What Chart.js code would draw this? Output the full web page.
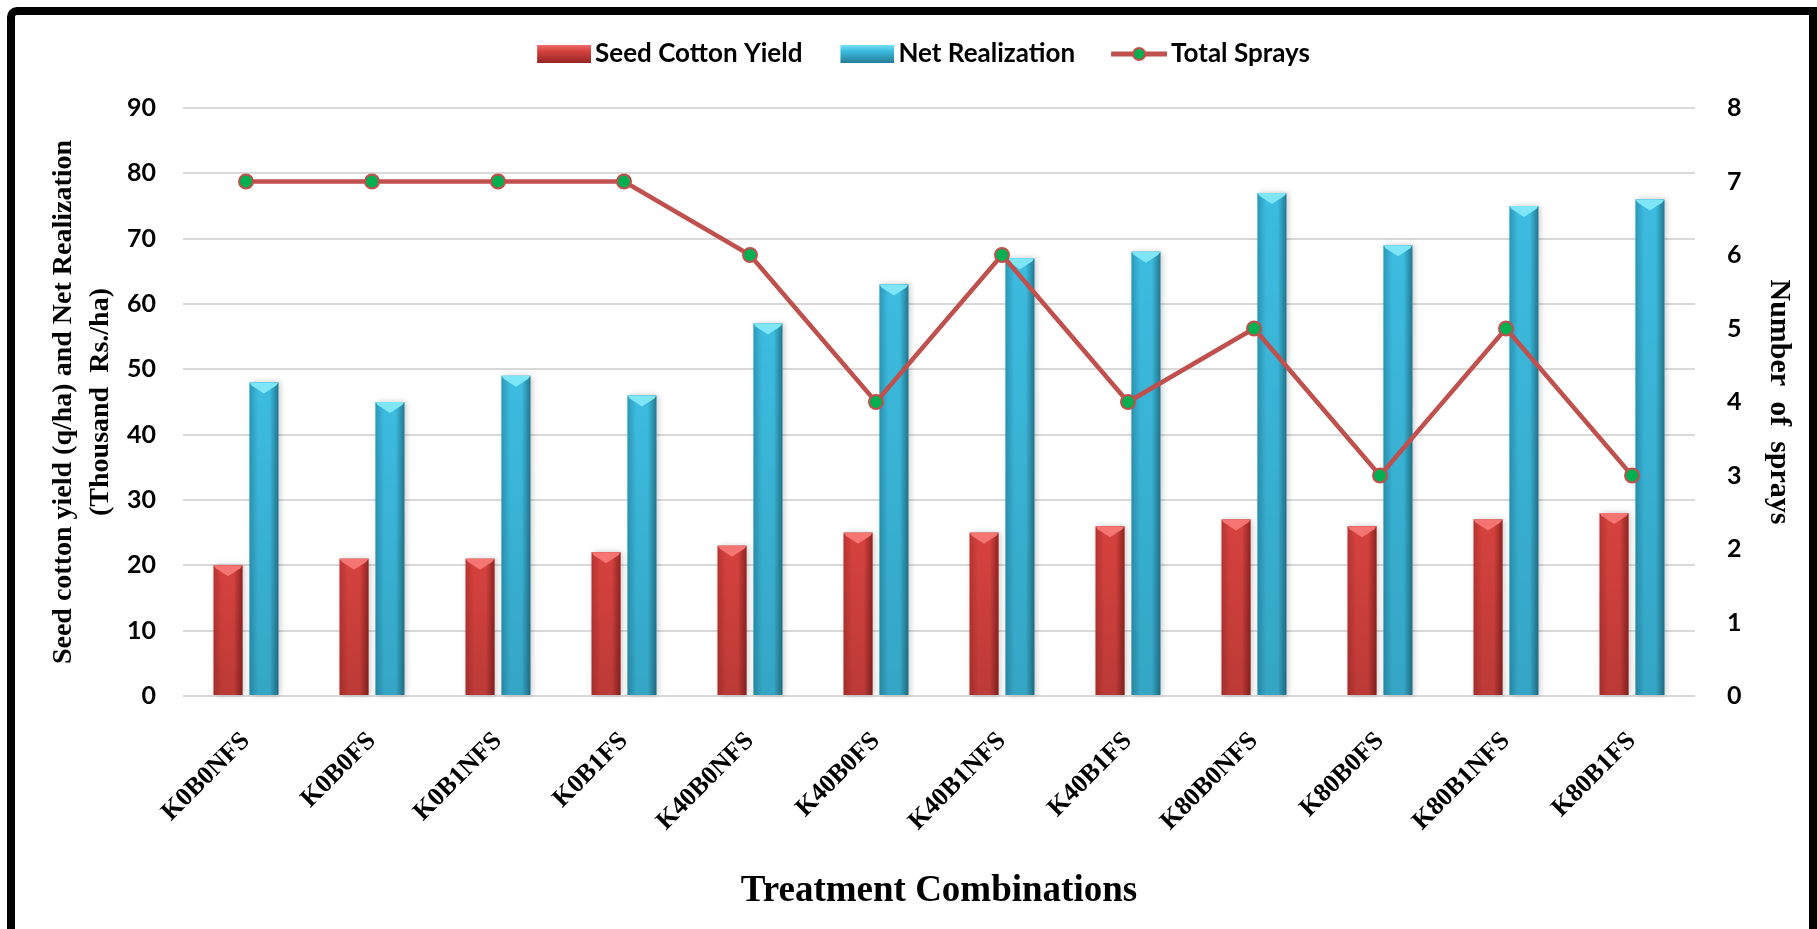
<!DOCTYPE html>
<html>
<head>
<meta charset="utf-8">
<script src="https://cdn.jsdelivr.net/npm/chart.js@4.4.0/dist/chart.umd.min.js"></script>
<style>
  html, body { margin: 0; padding: 0; background: #fff; }
  #wrap { position: relative; width: 1817px; height: 929px; overflow: hidden; }
  #frame {
    position: absolute; left: 7px; top: 7px; right: 0; bottom: -20px;
    border: 8px solid #000; border-bottom: none; border-top-left-radius: 10px;
    box-sizing: border-box; pointer-events: none;
  }
  canvas { position: absolute; left: 0; top: 0; }
</style>
</head>
<body>
<div id="wrap">
  <canvas id="sprayChart" width="1817" height="929"></canvas>
  <div id="frame"></div>
</div>
<script>
const treatments = ['K0B0NFS', 'K0B0FS', 'K0B1NFS', 'K0B1FS', 'K40B0NFS', 'K40B0FS',
  'K40B1NFS', 'K40B1FS', 'K80B0NFS', 'K80B0FS', 'K80B1NFS', 'K80B1FS'];
const seedCottonYield = [20, 21, 21, 22, 23, 25, 25, 26, 27, 26, 27, 28];
const netRealization = [48, 45, 49, 46, 57, 63, 67, 68, 77, 69, 75, 76];
const totalSprays = [7, 7, 7, 7, 6, 4, 6, 4, 5, 3, 5, 3];

const redBar = { left: '#B93431', mid: '#D6423E', right: '#8E2421', top: '#F47572' };
const blueBar = { left: '#2C98B8', mid: '#3CBCE0', right: '#23788F', top: '#7FE6F8' };

// legend swatches (drawn as point style images)
function barSwatch(pal) {
  const c = document.createElement('canvas');
  c.width = 68; c.height = 20;
  const ctx = c.getContext('2d');
  const g = ctx.createLinearGradient(0, 0, 0, 20);
  g.addColorStop(0, pal.top);
  g.addColorStop(0.35, pal.mid);
  g.addColorStop(1, pal.right);
  ctx.fillStyle = g;
  ctx.fillRect(14, 1, 54, 18);
  return c;
}
function lineSwatch() {
  const c = document.createElement('canvas');
  c.width = 68; c.height = 20;
  const ctx = c.getContext('2d');
  ctx.strokeStyle = '#C0504D';
  ctx.lineWidth = 5;
  ctx.beginPath(); ctx.moveTo(12, 10); ctx.lineTo(68, 10); ctx.stroke();
  ctx.beginPath(); ctx.arc(40, 10, 6, 0, Math.PI * 2);
  ctx.fillStyle = '#00B050'; ctx.fill();
  ctx.lineWidth = 2; ctx.stroke();
  return c;
}

const barLook = {
  id: 'barLook',
  beforeLayout(chart) {
    // leave room between legend and plot
    const legend = chart.legend;
    if (legend && !legend._gapPatched) {
      const fit = legend.fit;
      legend.fit = function () { fit.call(this); this.height = 100; };
      legend._gapPatched = true;
    }
  },
  afterDatasetDraw(chart, args) {
    if (args.meta.type !== 'bar') return;
    const pal = args.meta.index === 0 ? redBar : blueBar;
    const ctx = chart.ctx;
    ctx.save();
    args.meta.data.forEach(bar => {
      const { x, y, base, width } = bar.getProps(['x', 'y', 'base', 'width'], true);
      const l = x - width / 2, r = x + width / 2, h = base - y;
      const g = ctx.createLinearGradient(l, 0, r, 0);
      g.addColorStop(0, pal.left);
      g.addColorStop(0.3, pal.mid);
      g.addColorStop(0.7, pal.mid);
      g.addColorStop(1, pal.right);
      ctx.shadowColor = 'rgba(0,0,0,0.22)';
      ctx.shadowBlur = 6;
      ctx.shadowOffsetX = 2;
      ctx.fillStyle = g;
      ctx.fillRect(l, y, width, h);
      ctx.shadowColor = 'transparent';
      const v = ctx.createLinearGradient(0, y, 0, base);
      v.addColorStop(0, 'rgba(0,0,0,0)');
      v.addColorStop(1, 'rgba(0,0,0,0.12)');
      ctx.fillStyle = v;
      ctx.fillRect(l, y, width, h);
      const bh = Math.min(11, h / 2);
      ctx.beginPath();
      ctx.moveTo(l, y); ctx.lineTo(r, y); ctx.lineTo(r - 2, y + 3);
      ctx.lineTo(x, y + bh); ctx.lineTo(l + 2, y + 3); ctx.closePath();
      ctx.fillStyle = pal.top;
      ctx.fill();
    });
    ctx.restore();
  }
};

const tickFont = { family: 'Lato', weight: 'bold', size: 25 };
const serifBold = { family: 'Liberation Serif', weight: 'bold', size: 28 };

new Chart(document.getElementById('sprayChart'), {
  type: 'bar',
  data: {
    labels: treatments,
    datasets: [
      {
        label: 'Seed Cotton Yield',
        data: seedCottonYield,
        backgroundColor: redBar.mid,
        yAxisID: 'y',
        order: 1,
        categoryPercentage: 0.57,
        barPercentage: 0.8
      },
      {
        label: 'Net Realization',
        data: netRealization,
        backgroundColor: blueBar.mid,
        yAxisID: 'y',
        order: 2,
        categoryPercentage: 0.57,
        barPercentage: 0.8
      },
      {
        label: 'Total Sprays',
        type: 'line',
        data: totalSprays,
        yAxisID: 'y1',
        order: 0,
        borderColor: '#C0504D',
        borderWidth: 4.5,
        pointRadius: 7,
        pointBackgroundColor: '#00B050',
        pointBorderColor: '#C0504D',
        pointBorderWidth: 2,
        tension: 0
      }
    ]
  },
  options: {
    responsive: false,
    animation: false,
    layout: { padding: { left: 46, right: 21, top: 8, bottom: 17 } },
    plugins: {
      tooltip: { enabled: false },
      legend: {
        position: 'top',
        labels: {
          usePointStyle: true,
          pointStyleWidth: 50,
          padding: 33,
          color: '#000',
          font: { family: 'Lato', weight: 'bold', size: 26 },
          sort: (a, b) => a.datasetIndex - b.datasetIndex,
          generateLabels(chart) {
            const imgs = [barSwatch(redBar), barSwatch(blueBar), lineSwatch()];
            return chart.data.datasets.map((ds, i) => ({
              text: ds.label,
              datasetIndex: i,
              pointStyle: imgs[i],
              fillStyle: 'transparent',
              strokeStyle: 'transparent',
              lineWidth: 0,
              hidden: false
            }));
          }
        }
      }
    },
    scales: {
      x: {
        afterFit(scale) { scale.height = 216; },
        grid: { display: false },
        border: { display: false },
        ticks: {
          color: '#000',
          font: { family: 'Liberation Serif', weight: 'bold', size: 26 },
          minRotation: 45,
          maxRotation: 45,
          autoSkip: false,
          padding: 22
        },
        title: {
          display: true,
          text: 'Treatment Combinations',
          color: '#000',
          font: { family: 'Liberation Serif', weight: 'bold', size: 37, lineHeight: 1.1 },
          padding: { top: 0, bottom: 0 }
        }
      },
      y: {
        position: 'left',
        min: 0,
        max: 90,
        afterFit(scale) { scale.width = 137; },
        ticks: { stepSize: 10, color: '#000', font: tickFont, padding: 27 },
        grid: { color: '#D9D9D9', lineWidth: 2, drawTicks: false },
        border: { display: false },
        title: {
          display: true,
          text: ['Seed cotton yield (q/ha) and Net Realization', '(Thousand  Rs./ha)'],
          color: '#000',
          font: { ...serifBold, lineHeight: 1.3 },
          padding: { top: 0, bottom: 0 }
        }
      },
      y1: {
        position: 'right',
        min: 0,
        max: 8,
        afterFit(scale) { scale.width = 101; },
        ticks: { stepSize: 1, color: '#000', font: tickFont, padding: 32 },
        grid: { drawOnChartArea: false, drawTicks: false },
        border: { display: false },
        title: {
          display: true,
          text: 'Number  of  sprays',
          color: '#000',
          font: { family: 'Liberation Serif', weight: 'bold', size: 30, lineHeight: 1.15 },
          padding: { top: 0, bottom: 0 }
        }
      }
    }
  },
  plugins: [barLook]
});
</script>
</body>
</html>
